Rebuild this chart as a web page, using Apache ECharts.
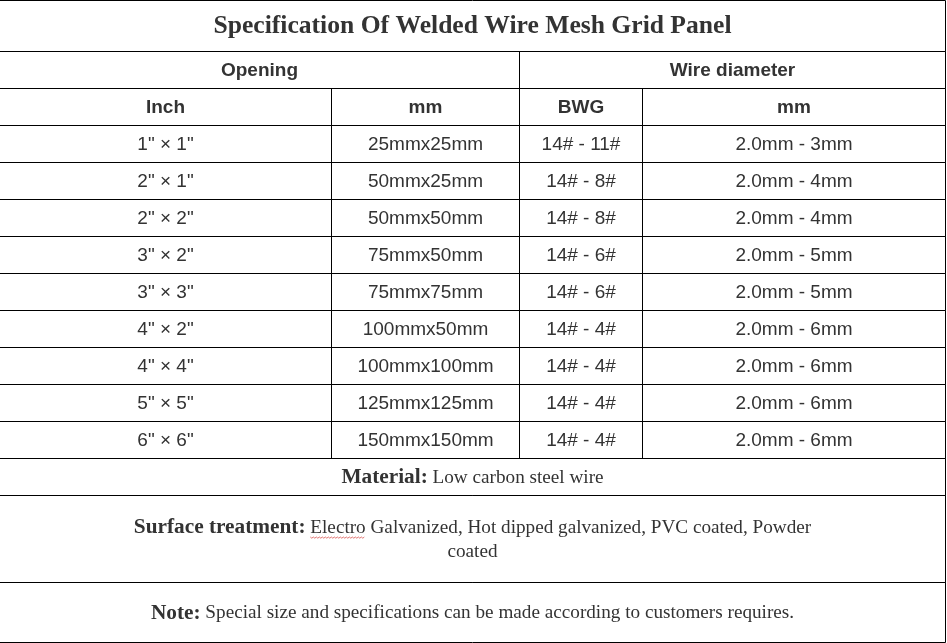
<!DOCTYPE html>
<html>
<head>
<meta charset="utf-8">
<script src="https://cdn.jsdelivr.net/npm/echarts@6/dist/echarts.min.js"></script>
<style>
html,body{margin:0;padding:0;background:#fff;}
#chart{width:947px;height:643px;}
</style>
</head>
<body>
<div id="chart"></div>
<script>
// ---- content ----
const title = 'Specification Of Welded Wire Mesh Grid Panel';
const groupHeaders = ['Opening', 'Wire diameter'];
const subHeaders = ['Inch', 'mm', 'BWG', 'mm'];
const inchSizes = ['1" × 1"', '2" × 1"', '2" × 2"', '3" × 2"', '3" × 3"', '4" × 2"', '4" × 4"', '5" × 5"', '6" × 6"'];
const mmSizes = ['25mmx25mm', '50mmx25mm', '50mmx50mm', '75mmx50mm', '75mmx75mm', '100mmx50mm', '100mmx100mm', '125mmx125mm', '150mmx150mm'];
const bwgRanges = ['14# - 11#', '14# - 8#', '14# - 8#', '14# - 6#', '14# - 6#', '14# - 4#', '14# - 4#', '14# - 4#', '14# - 4#'];
const wireMm = ['2.0mm - 3mm', '2.0mm - 4mm', '2.0mm - 4mm', '2.0mm - 5mm', '2.0mm - 5mm', '2.0mm - 6mm', '2.0mm - 6mm', '2.0mm - 6mm', '2.0mm - 6mm'];
const noteLabels = ['Material:', 'Surface treatment:', 'Note:'];
const noteTexts = [
  ['Low carbon steel wire'],
  ['Electro Galvanized, Hot dipped galvanized, PVC coated, Powder', 'coated'],
  ['Special size and specifications can be made according to customers requires.']
];
const spellFlagWord = 'Electro'; // word marked by the spell checker (row 2 of notes)

// ---- layout (page pixels) ----
const W = 947, H = 643;
const colEdges = [-1, 331, 519, 642, 945];
const titleRow = [0, 51];
const groupRow = [51, 88];
const subRow = [88, 125];
const bodyTop = 125, bodyRowH = 37;
const noteRows = [[458, 495], [495, 582], [582, 642]];

const SANS = "'Liberation Sans', Arial, sans-serif";
const SERIF = "'Liberation Serif', 'Times New Roman', serif";
const INK = '#333';
const TITLE_SIZE = 25.6, HEAD_SIZE = 19, BODY_SIZE = 19, NOTE_B = 21.3, NOTE_R = 19.2, NOTE_LH = 24;

const measureCtx = document.createElement('canvas').getContext('2d');
function textW(str, font) { measureCtx.font = font; return measureCtx.measureText(str).width; }

const cells = [];
cells.push({x0: colEdges[0], x1: colEdges[4], y0: titleRow[0], y1: titleRow[1], kind: 'title', text: title});
cells.push({x0: colEdges[0], x1: colEdges[2], y0: groupRow[0], y1: groupRow[1], kind: 'head', text: groupHeaders[0]});
cells.push({x0: colEdges[2], x1: colEdges[4], y0: groupRow[0], y1: groupRow[1], kind: 'head', text: groupHeaders[1]});
subHeaders.forEach((t, c) => cells.push({x0: colEdges[c], x1: colEdges[c + 1], y0: subRow[0], y1: subRow[1], kind: 'head', text: t}));
const columns = [inchSizes, mmSizes, bwgRanges, wireMm];
inchSizes.forEach((_, r) => {
  columns.forEach((col, c) => cells.push({
    x0: colEdges[c], x1: colEdges[c + 1],
    y0: bodyTop + r * bodyRowH, y1: bodyTop + (r + 1) * bodyRowH,
    kind: 'body', text: col[r]
  }));
});
noteLabels.forEach((lab, i) => {
  const lines = noteTexts[i];
  const txt = lines.map((l, k) => (k === 0 ? '{b|' + lab + '}{s| }' : '') + '{r|' + l + '}').join('\n');
  cells.push({x0: colEdges[0], x1: colEdges[4], y0: noteRows[i][0], y1: noteRows[i][1], kind: 'note',
              text: txt, label: lab, lines: lines});
});

function renderItem(params, api) {
  const c = cells[params.dataIndex];
  const p0 = api.coord([c.x0, c.y0]);
  const p1 = api.coord([c.x1, c.y1]);
  const x0 = Math.round(p0[0]) + 0.5, x1 = Math.round(p1[0]) + 0.5;
  const y0 = Math.round(p0[1]) + 0.5, y1 = Math.round(p1[1]) + 0.5;
  const cx = (x0 + x1) / 2, cy = (y0 + y1) / 2;
  let textStyle;
  const extra = [];
  if (c.kind === 'title') {
    textStyle = {text: c.text, fontFamily: SERIF, fontWeight: 'bold', fontSize: TITLE_SIZE, fill: INK};
  } else if (c.kind === 'head') {
    textStyle = {text: c.text, fontFamily: SANS, fontWeight: 'bold', fontSize: HEAD_SIZE, fill: INK};
  } else if (c.kind === 'body') {
    textStyle = {text: c.text, fontFamily: SANS, fontSize: BODY_SIZE, fill: INK};
  } else {
    textStyle = {
      text: c.text, fill: INK, fontFamily: SERIF, fontSize: NOTE_R, lineHeight: NOTE_LH,
      rich: {
        b: {fontFamily: SERIF, fontWeight: 'bold', fontSize: NOTE_B, lineHeight: NOTE_LH, fill: INK},
        s: {fontFamily: SERIF, fontSize: NOTE_R, lineHeight: NOTE_LH, fill: INK},
        r: {fontFamily: SERIF, fontSize: NOTE_R, lineHeight: NOTE_LH, fill: INK}
      }
    };
    const first = c.lines[0];
    const wi = first.indexOf(spellFlagWord);
    if (wi === 0) {
      const fb = 'bold ' + NOTE_B + 'px ' + SERIF, fr = NOTE_R + 'px ' + SERIF;
      const lw = textW(c.label, fb) + textW(' ', fr) + textW(first, fr);
      const sx = cx - lw / 2 + textW(c.label, fb) + textW(' ', fr);
      const ex = sx + textW(spellFlagWord, fr);
      const nLines = c.lines.length;
      const baseY = cy - (nLines * NOTE_LH) / 2 + NOTE_LH / 2 + 10;
      const pts = [];
      let k = 0;
      for (let x = sx; x <= ex; x += 1.5, k++) pts.push([x, baseY + (k % 2 ? 1.2 : 0)]);
      extra.push({type: 'polyline', shape: {points: pts}, style: {stroke: '#d9534f', lineWidth: 0.8, fill: null}, silent: true});
    }
  }
  textStyle.x = cx;
  textStyle.y = cy + 0.5;
  textStyle.align = 'center';
  textStyle.verticalAlign = 'middle';
  return {
    type: 'group',
    children: [
      {type: 'rect', shape: {x: x0, y: y0, width: x1 - x0, height: y1 - y0},
       style: {fill: 'none', stroke: '#000', lineWidth: 1}, silent: true},
      {type: 'text', style: textStyle, silent: true}
    ].concat(extra)
  };
}

const chart = echarts.init(document.getElementById('chart'), null, {renderer: 'canvas'});
chart.setOption({
  animation: false,
  backgroundColor: '#fff',
  grid: {left: 0, right: 0, top: 0, bottom: 0},
  xAxis: {type: 'value', min: 0, max: W, show: false},
  yAxis: {type: 'value', min: 0, max: H, inverse: true, show: false},
  series: [{
    type: 'custom',
    renderItem: renderItem,
    data: cells.map((c, i) => [i]),
    clip: false
  }]
});
</script>
</body>
</html>
